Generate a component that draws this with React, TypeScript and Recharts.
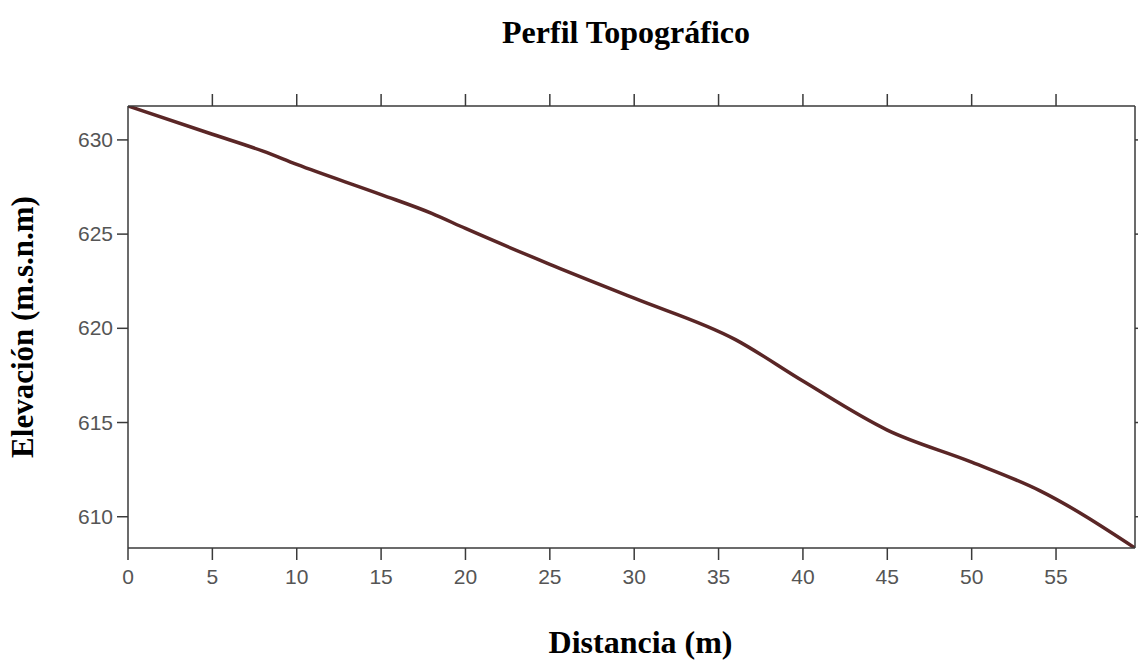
import React from 'react';
import { LineChart, Line, XAxis, YAxis, Label } from 'recharts';

// distance along the profile (m) and elevation (m.s.n.m)
const distances = [0, 5, 8, 10, 15, 18, 20, 25, 30, 36, 40, 45, 50, 54, 59.68];
const elevations = [631.8, 630.3, 629.4, 628.7, 627.1, 626.1, 625.3, 623.4, 621.6, 619.4, 617.2, 614.6, 612.9, 611.4, 608.34];

const xTicks = [0, 5, 10, 15, 20, 25, 30, 35, 40, 45, 50, 55];
const topTicks = [5, 10, 15, 20, 25, 30, 35, 40, 45, 50, 55];
const yTicks = [610, 615, 620, 625, 630];

const data = distances.map((d, i) => ({ dist: d, elev: elevations[i] }));

const serif = '"Liberation Serif", "Times New Roman", serif';
const sans = '"Liberation Sans", Arial, sans-serif';
const axisColor = '#3a3a3a';
const axisLine = { stroke: axisColor, strokeWidth: 1.5 };
const noLabel = () => '';

const BottomTick = ({ x, y, payload }: any) => (
  <text x={x} y={y} dy={16} textAnchor="middle" fill="#555" fontSize={21} fontFamily={sans}>
    {payload.value}
  </text>
);

const LeftTick = ({ x, y, payload }: any) => (
  <text x={x} y={y} dy={7} textAnchor="end" fill="#555" fontSize={21} fontFamily={sans}>
    {payload.value}
  </text>
);

export default function App() {
  return (
    <div style={{ position: 'absolute', left: 0, top: 0, width: 1139, height: 664, background: '#fff' }}>
      <div
        style={{
          position: 'absolute', left: 426, top: 16, width: 400, textAlign: 'center',
          fontFamily: serif, fontWeight: 'bold', fontSize: 32, lineHeight: '32px', color: '#000',
        }}
      >
        Perfil Topográfico
      </div>
      <LineChart width={1139} height={664} data={data} margin={{ top: 94, right: 0, bottom: 86, left: 68 }}>
        <XAxis
          dataKey="dist" type="number" domain={[0, 59.68]} ticks={xTicks} allowDataOverflow
          height={30} tickSize={12} tickMargin={8} tick={<BottomTick />}
          axisLine={axisLine} tickLine={axisLine}
        >
          <Label value="Distancia (m)" position="bottom" offset={52} dx={9}
            style={{ fill: '#000', fontFamily: serif, fontWeight: 'bold', fontSize: 32 }} />
        </XAxis>
        <XAxis
          xAxisId="top" orientation="top" dataKey="dist" type="number" domain={[0, 59.68]} ticks={topTicks}
          allowDataOverflow height={12} tickSize={12} tickFormatter={noLabel}
          axisLine={axisLine} tickLine={axisLine}
        />
        <YAxis
          type="number" domain={[608.34, 631.8]} ticks={yTicks} allowDataOverflow
          width={60} tickSize={11} tickMargin={4} tick={<LeftTick />}
          axisLine={axisLine} tickLine={axisLine}
        >
          <Label value="Elevación (m.s.n.m)" angle={-90} position="left" offset={46}
            style={{ textAnchor: 'middle', fill: '#000', fontFamily: serif, fontWeight: 'bold', fontSize: 31 }} />
        </YAxis>
        <YAxis
          yAxisId="right" orientation="right" type="number" domain={[608.34, 631.8]} ticks={yTicks}
          allowDataOverflow width={4} tickSize={3} tickFormatter={noLabel}
          axisLine={axisLine} tickLine={axisLine}
        />
        <Line
          type="monotone" dataKey="elev" stroke="#5a2626" strokeWidth={3.5}
          dot={false} activeDot={false} isAnimationActive={false}
        />
      </LineChart>
    </div>
  );
}
